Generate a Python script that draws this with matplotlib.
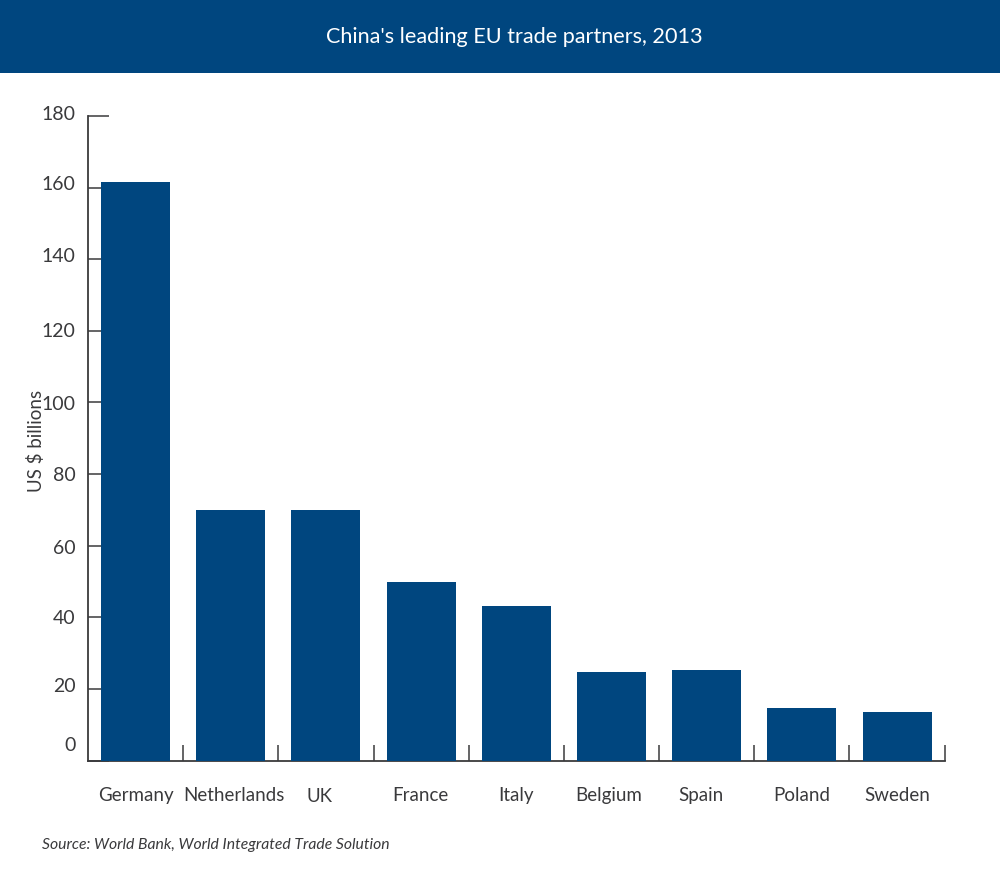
import matplotlib
matplotlib.use("Agg")
import matplotlib.pyplot as plt
import matplotlib.transforms as mtrans
import numpy as np

# data
countries = ["Germany", "Netherlands", "UK", "France", "Italy", "Belgium", "Spain", "Poland", "Sweden"]
values = [161.6, 70.1, 70.0, 50.0, 43.3, 24.9, 25.4, 14.8, 13.7]
y_ticks = [0, 20, 40, 60, 80, 100, 120, 140, 160, 180]

# hand placed label nudges from the original artwork, in pixels
x_label_dx = [0, 3, -6, -1, 0, -3, -6, 0, 0]
x_label_dy = [0, 0, -1, 0, 0, 0, 0, 0, 0]
y_label_dy = [18, 5, 1, 0, 1, 0, 2, 5, 6, 4]

blue = "#00467f"
dark = "#3a3a3c"
plt.rcParams["font.family"] = ["Lato", "DejaVu Sans"]

W, H = 1000, 878
fig = plt.figure(figsize=(W / 100, H / 100), dpi=100)
fig.patch.set_facecolor("white")

# title band
fig.patches.append(plt.Rectangle((0, 1 - 73.5 / H), 1, 73.5 / H, transform=fig.transFigure,
                                 facecolor=blue, edgecolor="none"))
fig.text(0.514, 1 - 37 / H, "China's leading EU trade partners, 2013", color="white",
         fontsize=15.6, ha="center", va="center")

ax = fig.add_axes([88 / W, 1 - 761.7 / H, (944.6 - 88) / W, (761.7 - 116.9) / H])
x = np.arange(len(countries))
ax.bar(x, values, width=0.725, color=blue, zorder=3)
ax.set_xlim(-0.5, len(countries) - 0.5)
ax.set_ylim(0, 180)

for s in ["top", "right"]:
    ax.spines[s].set_visible(False)
for s in ["left", "bottom"]:
    ax.spines[s].set_color(dark)
    ax.spines[s].set_linewidth(1.3)

# y axis
ax.set_yticks(y_ticks)
ax.set_yticklabels([str(v) for v in y_ticks])
ax.tick_params(axis="y", direction="in", length=15, width=1.1, color=dark,
               labelcolor=dark, labelsize=14, pad=9)
for lab, dy in zip(ax.get_yticklabels(), y_label_dy):
    lab.set_transform(lab.get_transform() + mtrans.ScaledTranslation(0, dy / 100, fig.dpi_scale_trans))

# x axis: separators between bars, labels on minor ticks at the bar centres
ax.set_xticks(x + 0.5)
ax.set_xticklabels([])
ax.tick_params(axis="x", which="major", direction="in", length=11.5, width=1.1, color=dark)
ax.set_xticks(x, minor=True)
ax.set_xticklabels(countries, minor=True)
ax.tick_params(axis="x", which="minor", length=0, labelcolor=dark, labelsize=13.5, pad=18)
for lab, dx, dy in zip(ax.get_xticklabels(minor=True), x_label_dx, x_label_dy):
    lab.set_transform(lab.get_transform() + mtrans.ScaledTranslation(dx / 100, dy / 100, fig.dpi_scale_trans))

fig.text(35.5 / W, 1 - 441 / H, "US $ billions", color=dark, fontsize=13.5, rotation=90,
         ha="center", va="center")
fig.text(42 / W, 1 - 845 / H, "Source: World Bank, World Integrated Trade Solution", color=dark,
         fontsize=11.3, style="italic", ha="left", va="center")

fig.savefig("out.png", dpi=100)
